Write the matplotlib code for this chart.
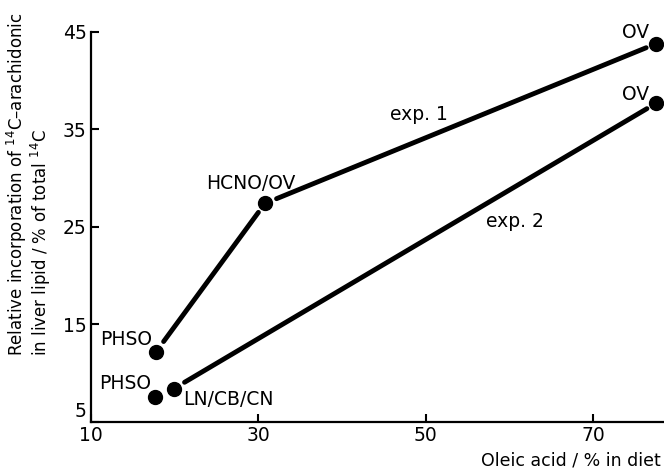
import numpy as np
import matplotlib
matplotlib.use('Agg')
import matplotlib.pyplot as plt
import matplotlib.transforms as mtransforms

# data
exp1_x = [17.8, 30.8, 77.6]
exp1_y = [12.2, 27.4, 43.8]
exp1_lab = ['PHSO', 'HCNO/OV', 'OV']

exp2_x = [17.6, 19.9, 77.6]
exp2_y = [7.5, 8.4, 37.7]
exp2_lab = ['PHSO', 'LN/CB/CN', 'OV']

xticks = [10, 30, 50, 70]
yticks = [5, 15, 25, 35, 45]

plt.rcParams['font.family'] = 'DejaVu Sans'
fig = plt.figure(figsize=(6.64, 4.75), dpi=100)
ax = fig.add_axes([0.137, 0.112, 0.863, 0.821])

ax.plot(exp1_x, exp1_y, 'o', color='black', ms=10, clip_on=False, zorder=3)
ax.plot(exp2_x, exp2_y, 'o', color='black', ms=10, clip_on=False, zorder=3)

# connecting lines, with a small gap at each point
def seg(x0, y0, x1, y1):
    ax.annotate('', xy=(x1, y1), xytext=(x0, y0),
                arrowprops=dict(arrowstyle='-', lw=3.5, color='black',
                                shrinkA=9, shrinkB=8), annotation_clip=False)

for i in range(len(exp1_x) - 1):
    seg(exp1_x[i], exp1_y[i], exp1_x[i + 1], exp1_y[i + 1])
seg(exp2_x[1], exp2_y[1], exp2_x[2], exp2_y[2])

fs = 13.5
# point labels (offsets in pixels)
offs1 = [(-4, 7, 'right'), (-14, 14, 'center'), (-7, 6, 'right')]
offs2 = [(-3, 8, 'right'), (9, -16, 'left'), (-7, 3, 'right')]
for x, y, t, (dx, dy, ha) in zip(exp1_x, exp1_y, exp1_lab, offs1):
    ax.annotate(t, (x, y), xytext=(dx, dy), textcoords='offset pixels',
                ha=ha, va='baseline', fontsize=fs, annotation_clip=False)
for x, y, t, (dx, dy, ha) in zip(exp2_x, exp2_y, exp2_lab, offs2):
    ax.annotate(t, (x, y), xytext=(dx, dy), textcoords='offset pixels',
                ha=ha, va='baseline', fontsize=fs, annotation_clip=False)

ax.text(49.2, 36.5, 'exp. 1', fontsize=fs, ha='center', va='center')
ax.text(60.7, 25.5, 'exp. 2', fontsize=fs, ha='center', va='center')

ax.set_xlim(10, 78.5)
ax.set_ylim(5, 45)
ax.set_xticks(xticks)
ax.set_yticks(yticks)
ax.spines['top'].set_visible(False)
ax.spines['right'].set_visible(False)
for s in ['left', 'bottom']:
    ax.spines[s].set_linewidth(1.6)
ax.tick_params(direction='in', length=6, width=1.5, labelsize=fs)
ax.tick_params(axis='x', pad=3)
ax.tick_params(axis='y', pad=3)

# lift the "5" label so it sits above the "10"
lab5 = ax.get_yticklabels()[0]
lab5.set_va('bottom')
lab5.set_transform(lab5.get_transform() +
                   mtransforms.ScaledTranslation(0, 0.01, fig.dpi_scale_trans))

fig.text(0.044, 0.25,
         'Relative incorporation of $^{14}$C\u2013arachidonic\nin liver lipid / % of total $^{14}$C',
         rotation=90, ha='center', va='bottom', multialignment='left',
         fontsize=12, linespacing=1.0)
fig.text(0.995, 0.012, 'Oleic acid / % in diet', ha='right', va='bottom', fontsize=12.5)

fig.savefig('out.png', dpi=100)
